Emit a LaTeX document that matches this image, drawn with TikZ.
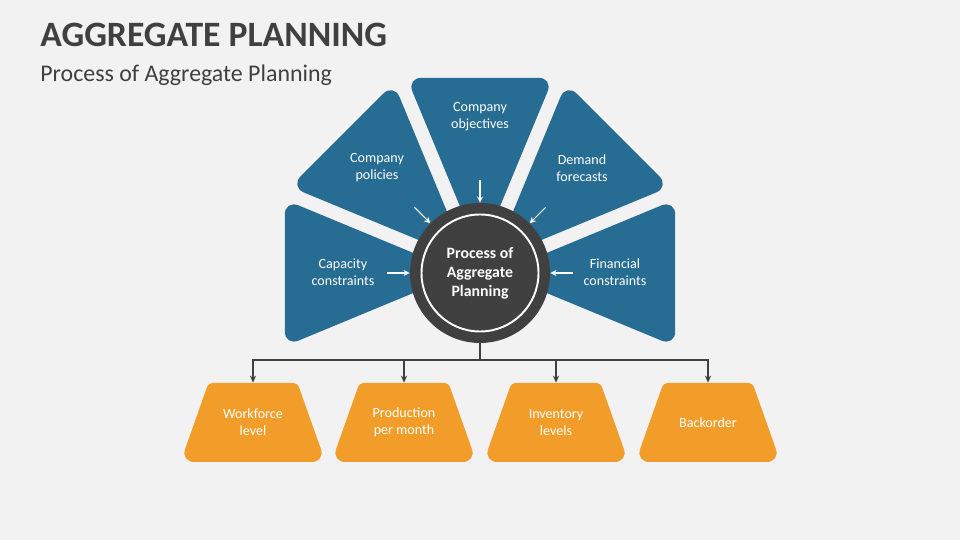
\documentclass[tikz,border=0pt]{standalone}
\usepackage{fontspec}
\setmainfont{Carlito}
\usetikzlibrary{calc,arrows.meta}
\definecolor{bgray}{HTML}{F2F2F2}
\definecolor{dgray}{HTML}{404040}
\definecolor{pblue}{HTML}{276C93}
\definecolor{porange}{HTML}{F29D2A}

\begin{document}
\begin{tikzpicture}[
  petal/.style={fill=pblue,rounded corners=0.3cm},
  plabel/.style={text=white,font=\fontsize{8}{9.6}\selectfont,align=center},
  inarrow/.style={white,line width=0.6pt,-{Stealth[length=3.5pt,width=3.5pt]}},
  link/.style={dgray,line width=0.75pt,-{Stealth[length=4pt,width=3.5pt]}},
  outbox/.style={minimum height=1.58cm,text=white,font=\fontsize{8}{9.6}\selectfont,align=center,inner sep=0pt}]
  \fill[bgray] (0,0) rectangle (19.2,10.8);
  \node[anchor=base west,text=dgray,font=\bfseries\fontsize{20.3}{24}\selectfont,inner sep=0pt] (title) at (0.8,9.86) {AGGREGATE PLANNING};
  \node[anchor=base west,text=dgray,font=\fontsize{13.6}{16}\selectfont,inner sep=0pt] (subtitle) at (0.8,9.16) {Process of Aggregate Planning};
  \coordinate (c) at (9.6,5.34);
  % petals
  \foreach \a in {90,135,45,180,0}
    \fill[petal] ($(c)+(\a:0.366)$) -- ($(c)+(\a:0.366)+(\a+22.5:3.83)$) -- ($(c)+(\a:0.366)+(\a-22.5:3.83)$) -- cycle;
  \node[plabel] (obj) at (9.6,8.46) {Company\\objectives};
  \node[plabel] (pol) at (7.54,7.44) {Company\\policies};
  \node[plabel] (dem) at (11.64,7.44) {Demand\\forecasts};
  \node[plabel] (cap) at (6.86,5.36) {Capacity\\constraints};
  \node[plabel] (fin) at (12.3,5.36) {Financial\\constraints};
  % hub
  \node[circle,fill=dgray,minimum size=2.8cm,inner sep=0pt,text=white,
    font=\bfseries\fontsize{9}{10.8}\selectfont,align=center] (hub) at (c) {Process of\\Aggregate\\Planning};
  \draw[white,line width=1.1pt] (c) circle (1.17);
  \foreach \a/\n in {90/obj,135/pol,45/dem,180/cap,0/fin}{
    \coordinate (\n-s) at ($(c)+(\a:1.86)$);
    \draw[inarrow] (\n-s) -- (hub);
  }
  % outputs
  \foreach \x/\n/\txt in {5.06/wf/{Workforce\\level},8.08/pm/{Production\\per month},11.12/il/{Inventory\\levels},14.16/bo/Backorder}{
    \fill[porange,rounded corners=0.28cm] (\x-1.45,1.56) [rounded corners=0.08cm] -- (\x-0.89,3.14)
      -- (\x+0.89,3.14) [rounded corners=0.28cm] -- (\x+1.45,1.56) -- cycle;
    \node[outbox] (\n) at (\x,2.35) {\txt};
  }
  \coordinate (bus) at (9.6,3.6);
  \draw[dgray,line width=0.75pt] (hub) -- (bus);
  \foreach \n in {wf,pm,il,bo}
    \draw[link] (bus) -| (\n.north);
\end{tikzpicture}
\end{document}
